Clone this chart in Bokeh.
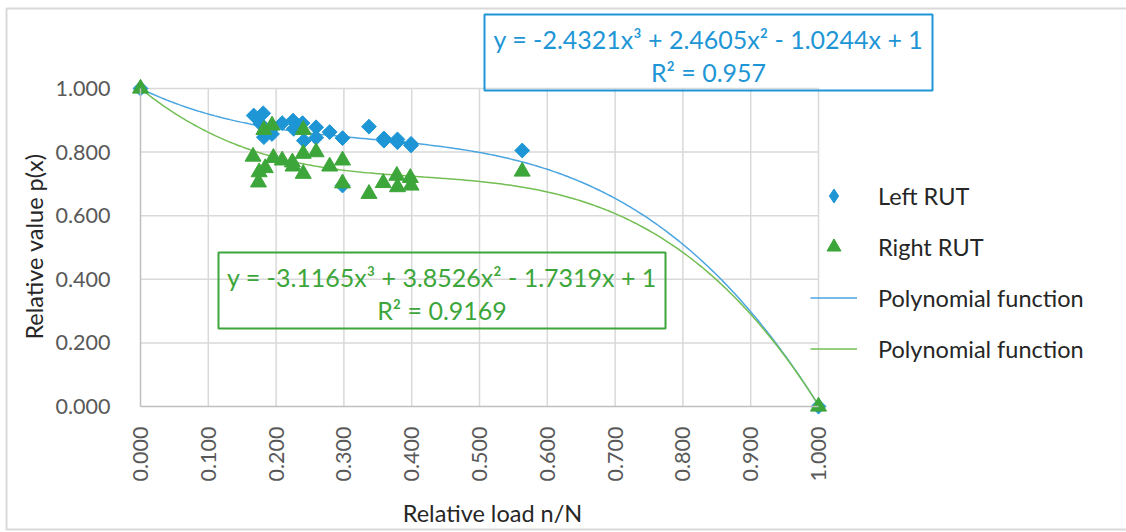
import numpy as np
from bokeh.plotting import figure
from bokeh.models import (Range1d, FixedTicker, NumeralTickFormatter, Label,
                          BoxAnnotation, Legend, LegendItem)
from bokeh.embed import file_html
from bokeh.resources import INLINE

# ---- data ----
left_x = [0.000, 0.167, 0.181, 0.177, 0.182, 0.194, 0.192, 0.209, 0.225, 0.226,
          0.239, 0.241, 0.259, 0.259, 0.279, 0.298, 0.298, 0.337, 0.359, 0.359,
          0.379, 0.379, 0.399, 0.399, 0.563, 1.000]
left_y = [1.000, 0.915, 0.922, 0.889, 0.847, 0.857, 0.870, 0.891, 0.899, 0.873,
          0.891, 0.836, 0.878, 0.845, 0.863, 0.844, 0.695, 0.880, 0.836, 0.843,
          0.831, 0.840, 0.821, 0.826, 0.805, 0.000]

right_x = [0.000, 0.166, 0.175, 0.174, 0.184, 0.182, 0.194, 0.196, 0.209, 0.224,
           0.225, 0.240, 0.240, 0.240, 0.259, 0.279, 0.298, 0.298, 0.337, 0.358,
           0.378, 0.379, 0.398, 0.399, 0.563, 1.000]
right_y = [1.000, 0.786, 0.737, 0.705, 0.750, 0.870, 0.884, 0.782, 0.774, 0.768,
           0.755, 0.870, 0.795, 0.732, 0.800, 0.755, 0.774, 0.702, 0.669, 0.703,
           0.726, 0.690, 0.719, 0.695, 0.739, 0.000]

# trendline coefficients shown on the chart (x^3, x^2, x, const)
left_coef = [-2.4321, 2.4605, -1.0244, 1.0]
right_coef = [-3.1165, 3.8526, -1.7319, 1.0]
left_eq = ["y = -2.4321x³ + 2.4605x² - 1.0244x + 1", "R² = 0.957"]
right_eq = ["y = -3.1165x³ + 3.8526x² - 1.7319x + 1", "R² = 0.9169"]

x_ticks = [0.0, 0.1, 0.2, 0.3, 0.4, 0.5, 0.6, 0.7, 0.8, 0.9, 1.0]
y_ticks = [0.0, 0.2, 0.4, 0.6, 0.8, 1.0]

labels = ["Left RUT", "Right RUT", "Polynomial function", "Polynomial function"]
x_title = "Relative load n/N"
y_title = "Relative value p(x)"

BLUE = "#1E96D6"
GREEN = "#3DA63A"
BLUE_LINE = "#4AA5E0"
GREEN_LINE = "#72BE52"
FONT = "Lato"

# ---- layout geometry (pixels) ----
W, H = 1126, 532
PL, PR, PT, PB = 140, 818, 88, 406        # plot area in canvas pixels
sx = (PR - PL)                            # px per unit x
sy = (PB - PT)                            # px per unit y


def dx(px):
    return (px - PL) / sx


def dy(py):
    return (PB - py) / sy


p = figure(width=W, height=H, output_backend="svg", toolbar_location=None,
           x_range=Range1d(dx(0), dx(W)), y_range=Range1d(dy(H), dy(0)),
           min_border=0)
p.outline_line_color = None
p.background_fill_color = "white"
p.border_fill_color = "white"
p.xgrid.visible = False
p.ygrid.visible = False

# grid lines (from the tick lists)
p.segment(x0=x_ticks[1:], y0=[y_ticks[0]] * (len(x_ticks) - 1),
          x1=x_ticks[1:], y1=[y_ticks[-1]] * (len(x_ticks) - 1),
          line_color="#D9D9D9", line_width=1.5)
p.segment(x0=[x_ticks[0]] * (len(y_ticks) - 1), y0=y_ticks[1:],
          x1=[x_ticks[-1]] * (len(y_ticks) - 1), y1=y_ticks[1:],
          line_color="#D9D9D9", line_width=1.5)

# axes placed at the data origin
for ax in (p.xaxis[0], p.yaxis[0]):
    ax.fixed_location = 0
    ax.bounds = (0, 1)
    ax.formatter = NumeralTickFormatter(format="0.000")
    ax.axis_line_color = "#BFBFBF"
    ax.axis_line_width = 1.5
    ax.major_tick_line_color = None
    ax.minor_tick_line_color = None
    ax.major_label_text_font = FONT
    ax.major_label_text_font_size = "21.5px"
    ax.major_label_text_color = "#595959"
p.xaxis.ticker = FixedTicker(ticks=x_ticks)
p.yaxis.ticker = FixedTicker(ticks=y_ticks)
p.xaxis.major_label_orientation = np.pi / 2
p.xaxis.major_label_standoff = 14
p.yaxis.major_label_standoff = 24

# axis titles
p.add_layout(Label(x=dx(492), y=dy(512), text=x_title, text_align="center",
                   text_baseline="middle", text_font=FONT,
                   text_font_size="23.5px", text_color="#262626"))
p.add_layout(Label(x=dx(33), y=dy(246), text=y_title, angle=np.pi / 2,
                   text_align="center", text_baseline="middle", text_font=FONT,
                   text_font_size="23.5px", text_color="#262626"))

# trendlines
xs = np.linspace(0, 1, 301)
r_lline = p.line(xs, np.polyval(left_coef, xs), line_color=BLUE_LINE, line_width=1.5)
r_rline = p.line(xs, np.polyval(right_coef, xs), line_color=GREEN_LINE, line_width=1.5)

# legend key for the diamond series (legend glyphs ignore rotation); it sits
# under the first real point, fully covered by it
r_left_key = p.scatter(left_x[:1], left_y[:1], marker="diamond", size=12,
                       fill_color=BLUE, line_color=BLUE)

# points
r_left = p.scatter(left_x, left_y, marker="square", angle=np.pi / 4, size=10.5,
                   fill_color=BLUE, line_color=BLUE)
r_right = p.scatter(right_x, right_y, marker="triangle", size=16,
                    fill_color=GREEN, line_color=GREEN)

# legend
legend = Legend(items=[LegendItem(label=labels[0], renderers=[r_left_key]),
                       LegendItem(label=labels[1], renderers=[r_right]),
                       LegendItem(label=labels[2], renderers=[r_lline]),
                       LegendItem(label=labels[3], renderers=[r_rline])],
                location=(810, 166), padding=0, spacing=16, margin=0,
                glyph_width=47, glyph_height=35, label_height=35,
                label_standoff=21, border_line_color=None,
                background_fill_alpha=0, label_text_font=FONT,
                label_text_font_size="23.5px", label_text_color="#262626")
p.add_layout(legend)

# equation boxes
p.add_layout(BoxAnnotation(left=dx(484), right=dx(932), bottom=dy(90), top=dy(14),
                           fill_alpha=0, line_color=BLUE, line_alpha=1,
                           line_width=2))
p.add_layout(BoxAnnotation(left=dx(218), right=dx(665), bottom=dy(328), top=dy(252),
                           fill_alpha=0, line_color=GREEN, line_alpha=1,
                           line_width=2))
for txt, py in ((left_eq[0], 38), (left_eq[1], 71)):
    p.add_layout(Label(x=dx(708), y=dy(py), text=txt, text_align="center",
                       text_baseline="middle", text_font=FONT,
                       text_font_size="25px", text_color=BLUE))
for txt, py in ((right_eq[0], 276), (right_eq[1], 309)):
    p.add_layout(Label(x=dx(441.5), y=dy(py), text=txt, text_align="center",
                       text_baseline="middle", text_font=FONT,
                       text_font_size="25px", text_color=GREEN))

# outer chart border
p.add_layout(BoxAnnotation(left=dx(6), right=dx(W + 4), bottom=dy(529), top=dy(8),
                           fill_alpha=0, line_color="#D9D9D9", line_alpha=1,
                           line_width=2))

open("out.html", "w").write(file_html(p, INLINE))
